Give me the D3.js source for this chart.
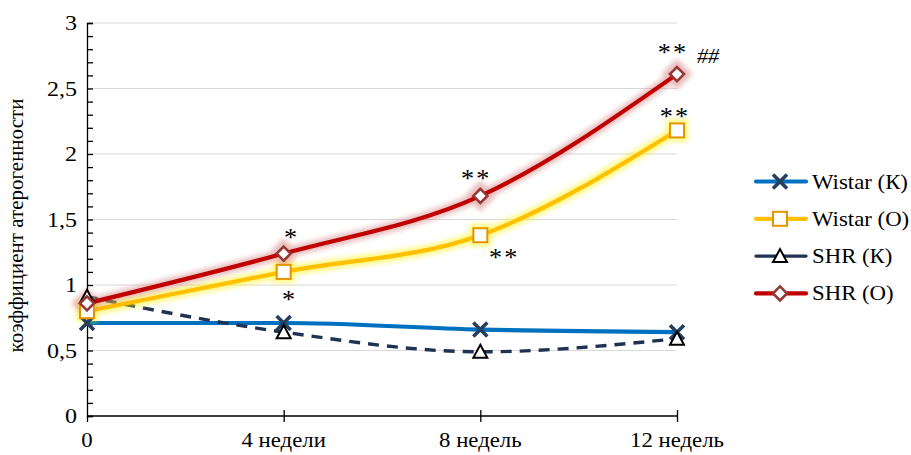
<!DOCTYPE html>
<html>
<head>
<meta charset="utf-8">
<script src="https://cdn.jsdelivr.net/npm/d3@7"></script>
<style>
  html, body { margin: 0; padding: 0; background: #fff; }
  svg text { font-family: "Liberation Serif", "Times New Roman", serif; fill: #000; }
</style>
</head>
<body>
<svg id="chart" width="911" height="455" font-family="Liberation Serif"></svg>
<script>
// Атерогенный коэффициент по срокам наблюдения
const weeks = [0, 4, 8, 12];
const weekLabels = ["0", "4 недели", "8 недель", "12 недель"];
const seriesNames = ["Wistar (К)", "Wistar (О)", "SHR (К)", "SHR (О)"];
const wistarK = [0.71, 0.71, 0.66, 0.64];
const wistarO = [0.80, 1.10, 1.38, 2.18];
const shrK = [0.91, 0.64, 0.49, 0.59];
const shrO = [0.86, 1.24, 1.68, 2.61];
const yTicks = [0, 0.5, 1, 1.5, 2, 2.5, 3];
const yTitle = "коэффициент атерогенности";
// Пометки достоверности: [серия, срок, текст]
const marksText = [
  ["SHR (О)", 4, "*"], ["Wistar (О)", 4, "*"],
  ["SHR (О)", 8, "**"], ["Wistar (О)", 8, "**"],
  ["SHR (О)", 12, "**"], ["Wistar (О)", 12, "**"], ["SHR (О)", 12, "##"]
];

const FONT = "Liberation Serif";
const SX = 1.14; // горизонтальное растяжение подписей
const svg = d3.select("#chart");
const x = d3.scaleLinear().domain([0, 12]).range([87, 677]);
const y = d3.scaleLinear().domain([0, 3]).range([416, 23]);

function label(parent, tx, ty, str, opts = {}) {
  return parent.append("text")
    .attr("transform", `translate(${tx},${ty}) scale(${opts.sx || SX},1)`)
    .attr("text-anchor", opts.anchor || "start")
    .attr("dy", opts.dy || null)
    .attr("font-size", opts.size || 20)
    .attr("font-family", FONT)
    .attr("font-style", opts.italic ? "italic" : null)
    .attr("letter-spacing", opts.ls || null)
    .text(str);
}

const defs = svg.append("defs");
const glow = defs.append("filter").attr("id", "glow")
  .attr("x", "-20%").attr("y", "-20%").attr("width", "140%").attr("height", "140%");
glow.append("feGaussianBlur").attr("stdDeviation", 2.4);

// сетка
svg.append("g").selectAll("line").data(yTicks.filter(d => d > 0)).join("line")
  .attr("x1", x(0)).attr("x2", x(12))
  .attr("y1", d => y(d)).attr("y2", d => y(d))
  .attr("stroke", "#d9d9d9").attr("stroke-width", 1);

// ось Y: мелкие деления каждые 0,1
const minor = d3.range(0, 31).map(i => i / 10);
svg.append("g").attr("transform", `translate(${x(0)},0)`)
  .call(d3.axisLeft(y).tickValues(minor).tickSize(-6).tickFormat(""))
  .call(g => g.selectAll("path, line").attr("stroke", "#000").attr("stroke-width", 1.3));
const yl = svg.append("g");
yTicks.forEach(d => label(yl, 77, y(d), String(d).replace(".", ","),
  { anchor: "end", dy: "0.35em", sx: 1.2 }));

// ось X
const xAxisG = svg.append("g").attr("transform", `translate(0,${y(0)})`);
xAxisG.call(d3.axisBottom(x).tickValues(weeks).tickSize(6).tickFormat(""))
  .call(g => g.selectAll("path, line").attr("stroke", "#000").attr("stroke-width", 1.3))
  .call(g => g.select(".domain").attr("d", `M${x(0)},0H${x(12)}`));
xAxisG.append("g").call(d3.axisBottom(x).tickValues(weeks.slice(1)).tickSize(-6).tickFormat(""))
  .call(g => g.select(".domain").remove())
  .call(g => g.selectAll("line").attr("stroke", "#000").attr("stroke-width", 1.3));
const xl = svg.append("g");
weeks.forEach((d, i) => label(xl, x(d), 447, weekLabels[i], { anchor: "middle" }));

// подпись оси Y
svg.append("text")
  .attr("transform", `translate(23,${(y(0) + y(3)) / 2 + 6}) rotate(-90)`)
  .attr("text-anchor", "middle").attr("font-size", 21).attr("font-family", FONT)
  .text(yTitle);

const series = [
  { name: seriesNames[0], values: wistarK, color: "#0070C0", width: 4.2, dash: null, marker: "x", mStroke: "#243F60", glow: null },
  { name: seriesNames[2], values: shrK, color: "#1F3251", width: 3.4, dash: "11,8", marker: "tri", mStroke: "#000", glow: null },
  { name: seriesNames[1], values: wistarO, color: "#FFC000", width: 4.2, dash: null, marker: "sq", mStroke: "#E59400", glow: "#FFF200" },
  { name: seriesNames[3], values: shrO, color: "#C00000", width: 4.2, dash: null, marker: "dia", mStroke: "#953735", glow: "#D27A7A" }
];

const line = d3.line().x(d => x(d[0])).y(d => y(d[1])).curve(d3.curveMonotoneX);

function drawMarker(g, type, cx, cy, stroke) {
  if (type === "x") {
    const s = 7;
    g.append("path").attr("d", `M${cx - s},${cy - s}L${cx + s},${cy + s}M${cx - s},${cy + s}L${cx + s},${cy - s}`)
      .attr("stroke", stroke).attr("stroke-width", 3.6).attr("fill", "none");
  } else if (type === "sq") {
    g.append("rect").attr("x", cx - 7).attr("y", cy - 7).attr("width", 14).attr("height", 14)
      .attr("fill", "#fff").attr("stroke", stroke).attr("stroke-width", 2);
  } else if (type === "tri") {
    g.append("path").attr("d", `M${cx},${cy - 7}L${cx + 7},${cy + 6}L${cx - 7},${cy + 6}Z`)
      .attr("fill", "#fff").attr("stroke", stroke).attr("stroke-width", 2);
  } else if (type === "dia") {
    g.append("path").attr("d", `M${cx},${cy - 7}L${cx + 7},${cy}L${cx},${cy + 7}L${cx - 7},${cy}Z`)
      .attr("fill", "#fff").attr("stroke", stroke).attr("stroke-width", 2.6);
  }
}

const plot = svg.append("g");
series.forEach(s => {
  const pts = weeks.map((w, i) => [w, s.values[i]]);
  if (s.glow) {
    const gg = plot.append("g").attr("filter", "url(#glow)").attr("opacity", 0.5);
    gg.append("path").attr("d", line(pts)).attr("fill", "none")
      .attr("stroke", s.glow).attr("stroke-width", s.width + 6).attr("stroke-linecap", "round");
    pts.forEach(p => gg.append("rect").attr("x", x(p[0]) - 11).attr("y", y(p[1]) - 11)
      .attr("width", 22).attr("height", 22).attr("fill", s.glow)
      .attr("transform", s.marker === "dia" ? `rotate(45,${x(p[0])},${y(p[1])})` : null));
  }
  plot.append("path").attr("d", line(pts)).attr("fill", "none")
    .attr("stroke", s.color).attr("stroke-width", s.width)
    .attr("stroke-dasharray", s.dash);
  s.pts = pts;
});
series.forEach(s => {
  const mg = plot.append("g");
  s.pts.forEach(p => drawMarker(mg, s.marker, x(p[0]), y(p[1]), s.mStroke));
});

// пометки достоверности (смещение центра знака от маркера)
const offsets = {
  "SHR (О)|4": [7, -22], "Wistar (О)|4": [5, 22],
  "SHR (О)|8": [-4, -23], "Wistar (О)|8": [24, 17],
  "SHR (О)|12": [-4, -27], "Wistar (О)|12": [-2, -19], "SHR (О)|12|##": [31, -18]
};
const ml = svg.append("g");
marksText.forEach(([name, w, t]) => {
  const s = series.find(d => d.name === name);
  const v = s.values[weeks.indexOf(w)];
  const key = t === "##" ? `${name}|${w}|##` : `${name}|${w}`;
  const [dx, dy] = offsets[key];
  if (t === "##") {
    label(ml, x(w) + dx, y(v) + dy + 7, t, { anchor: "middle", size: 21, italic: true, sx: 1.05 });
  } else {
    label(ml, x(w) + dx, y(v) + dy + 14, t, { anchor: "middle", size: 25, ls: t === "**" ? 2 : null, sx: 1.05 });
  }
});

// легенда: Wistar (К), Wistar (О), SHR (К), SHR (О)
const legendOrder = seriesNames.map(n => series.find(s => s.name === n));
const lg = svg.append("g");
legendOrder.forEach((s, i) => {
  const ly = 181.5 + i * 37.3;
  const g = lg.append("g");
  g.append("line").attr("x1", 756).attr("x2", 806).attr("y1", ly).attr("y2", ly)
    .attr("stroke", s.color).attr("stroke-width", s.width).attr("stroke-linecap", "round");
  drawMarker(g, s.marker, 780, ly, s.mStroke);
  label(g, 812, ly + 7, s.name);
});
</script>
</body>
</html>
